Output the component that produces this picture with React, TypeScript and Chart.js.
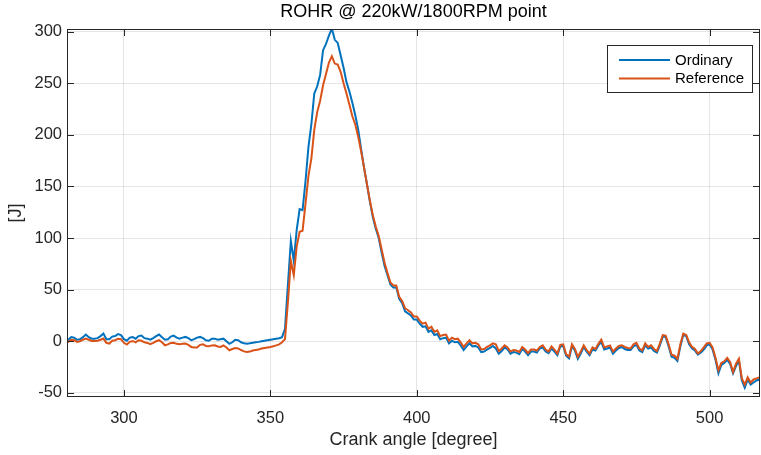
import React, { useEffect, useRef } from "react";
import { Chart, registerables } from "chart.js";

Chart.register(...registerables);

const titleText = "ROHR @ 220kW/1800RPM point";
const xLabel = "Crank angle [degree]";
const yLabel = "[J]";
const seriesNames = ["Ordinary", "Reference"];
const seriesColors = ["#0072BD", "#D95319"];

const crankStart = 280; // first crank angle, 1 degree step

const ordinary = [
  0, 1.5, 4, 3.5, 1.5, 2, 4, 6.5, 4, 2.5,
  2.5, 3, 5, 7.5, 2, 2, 4.5, 5, 7, 6,
  2, 0.5, 3.5, 4, 2.5, 5, 5.5, 3, 2.5, 1.5,
  3, 5, 6.5, 4, 1.5, 2, 4.5, 5.5, 3.5, 2.5,
  3.5, 4.2, 3, 1, 2, 3.5, 4.2, 3, 1, 0.5,
  2.5, 2.5, 1.5, 2, 2.5, 0, -2.5, -1, 1.5, 1,
  -1, -2, -2.3, -2, -1.5, -1, -0.6, 0, 0.5, 1,
  1.5, 2, 2.5, 3, 4, 12, 55, 97, 78, 108,
  128, 127, 155, 188, 210, 240, 247, 258, 282, 288,
  296, 303, 292, 289, 277, 265, 251, 242, 231, 219,
  205, 186, 168, 152, 135, 120, 109, 100, 86, 73,
  64, 55, 52, 52, 41, 37, 29, 27, 25, 21,
  21, 17, 14, 14.5, 9, 10.5, 6, 7, 2, 3,
  3.5, -2, 0.5, -1, -0.5, -4, -8.5, -5, -2, -5,
  -4.5, -6, -10.5, -10, -8, -6.5, -4.5, -7, -12, -9.5,
  -6, -8, -12, -10.5, -11, -12.5, -7.5, -10, -13.5, -10,
  -10, -11, -7, -6, -10, -11.5, -7, -10, -13.5, -5,
  -4.5, -14, -16.5, -4.5, -9, -17, -12, -5.5, -10, -13.5,
  -8, -9, -4, -0.5, -8, -7, -6, -12, -9, -6.5,
  -5.5, -7.5, -8.5, -8.5, -5, -3.5, -9, -10.5, -4, -7,
  -6, -9.5, -11, -4, 4.5, 4, -5, -15, -16, -19,
  -5, 6, 5, -3, -7, -9, -13, -11, -8, -4,
  -3, -8, -18, -31, -23, -21, -18, -22, -31, -24,
  -19, -38, -45, -37, -42, -40, -38, -37,
];

const reference = [
  -1.6, -0.5, 1.5, 1, -0.6, 0, 1.5, 2.6, 1.5, 0.3,
  0.3, 0.5, 1.5, 2.6, -1.5, -2.3, 0.5, 1, 2.5, 2,
  -1.5, -3.2, -0.5, 0.3, -1, 1, 0.5, -1, -1.6, -2.9,
  -1.5, 0, 1, -1, -3.9, -3, -1.6, -1.5, -2.5, -2.9,
  -2.5, -2.3, -3.5, -5.5, -6, -6.1, -3.5, -2.9, -4.5, -4.8,
  -4, -3.9, -5, -5.5, -4, -6, -8.7, -7.5, -6.5, -7,
  -8.5, -9.8, -10.3, -10, -9, -8.5, -8, -7, -6.5, -6,
  -5.5, -4.8, -4, -3, -1, 2, 38, 78, 64, 92,
  106, 107, 133, 160, 177, 205, 222, 233, 248, 259,
  270, 276, 269, 268, 261, 250, 240, 229, 218, 210,
  198, 184, 168, 152, 136, 122, 111, 102, 89, 76,
  66, 57, 54, 54, 43, 39, 32, 30, 28, 24,
  24, 20, 17, 18, 12, 14, 9, 10.5, 5, 6,
  6.5, 0.5, 3.5, 2, 2.5, -1, -5.5, -2, 1, -2,
  -1.5, -3, -8, -7.5, -5.5, -4, -2, -3, -9.5, -7,
  -4, -6, -10, -8.5, -9, -10.3, -5.5, -8, -11.5, -8,
  -8, -9, -5.5, -4, -8, -10, -5, -8, -12, -3.5,
  -3, -12.5, -15, -3, -7.5, -15.2, -10, -4, -8.5, -12,
  -6, -7.5, -2.5, 1.5, -6, -5, -4, -10, -7, -4.5,
  -3.9, -5.5, -6.5, -7, -3, -1.6, -7, -8.7, -2, -5.5,
  -4, -7.5, -9.4, -2.3, 6, 5.5, -3, -13, -14, -17,
  -3, 7.4, 6, -1, -5.5, -7.5, -11.9, -9.5, -6, -2,
  -1.5, -6, -16, -28, -21, -19.4, -16, -20, -29.7, -21.8,
  -17, -36, -42, -35, -40, -37, -36, -35,
];

const xTicks = [300, 350, 400, 450, 500];
const yTicks = [-50, 0, 50, 100, 150, 200, 250, 300];
const xRange = [280.56, 517.2];
const yRange = [-54, 302.5];

const FONT = "'Liberation Sans', Arial, Helvetica, sans-serif";
const AXIS_COLOR = "#262626";

const decorPlugin = {
  id: "decor",
  afterDraw(chart: any) {
    const ctx = chart.ctx;
    const { left, right, top, bottom } = chart.chartArea;
    const xs = chart.scales.x;
    const ys = chart.scales.y;
    ctx.save();
    // box
    ctx.strokeStyle = AXIS_COLOR;
    ctx.lineWidth = 1;
    ctx.strokeRect(Math.round(left) + 0.5, Math.round(top) + 0.5, Math.round(right - left) - 1, Math.round(bottom - top) - 1);
    // inward ticks
    const tl = 7;
    ctx.beginPath();
    xTicks.forEach((v) => {
      const p = Math.round(xs.getPixelForValue(v)) + 0.5;
      ctx.moveTo(p, bottom);
      ctx.lineTo(p, bottom - tl);
      ctx.moveTo(p, top);
      ctx.lineTo(p, top + tl);
    });
    yTicks.forEach((v) => {
      const p = Math.round(ys.getPixelForValue(v)) + 0.5;
      ctx.moveTo(left, p);
      ctx.lineTo(left + tl, p);
      ctx.moveTo(right, p);
      ctx.lineTo(right - tl, p);
    });
    ctx.stroke();

    // title
    const cx = (left + right) / 2;
    ctx.fillStyle = "#000000";
    ctx.font = `18px ${FONT}`;
    ctx.textAlign = "center";
    ctx.textBaseline = "middle";
    ctx.fillText(titleText, cx, 12);
    // x label
    ctx.fillStyle = AXIS_COLOR;
    ctx.fillText(xLabel, cx, 440);
    // y label
    ctx.save();
    ctx.translate(16, (top + bottom) / 2);
    ctx.rotate(-Math.PI / 2);
    ctx.fillText(yLabel, 0, 0);
    ctx.restore();

    // legend
    const lx = 607.5, ly = 45.5, lw = 145, lh = 47;
    ctx.fillStyle = "#ffffff";
    ctx.fillRect(lx, ly, lw, lh);
    ctx.strokeStyle = AXIS_COLOR;
    ctx.lineWidth = 1;
    ctx.strokeRect(lx, ly, lw, lh);
    const rows = [60, 78.5];
    ctx.font = `15px ${FONT}`;
    ctx.textAlign = "left";
    ctx.textBaseline = "middle";
    seriesNames.forEach((name, i) => {
      ctx.strokeStyle = seriesColors[i];
      ctx.lineWidth = 2;
      ctx.beginPath();
      ctx.moveTo(619, rows[i]);
      ctx.lineTo(670, rows[i]);
      ctx.stroke();
      ctx.fillStyle = "#000000";
      ctx.fillText(name, 675, rows[i] + 0.5);
    });
    ctx.restore();
  },
};

export default function App() {
  const canvasRef = useRef<HTMLCanvasElement | null>(null);

  useEffect(() => {
    const canvas = canvasRef.current;
    if (!canvas) return;
    const series = [ordinary, reference];
    const chart = new Chart(canvas, {
      type: "line",
      data: {
        datasets: series.map((vals, i) => ({
          label: seriesNames[i],
          data: vals.map((v, k) => ({ x: crankStart + k, y: v })),
          borderColor: seriesColors[i],
          backgroundColor: seriesColors[i],
          borderWidth: 2,
          pointRadius: 0,
          tension: 0,
          fill: false,
          order: i === 0 ? 2 : 1,
        })),
      },
      options: {
        animation: false,
        responsive: false,
        devicePixelRatio: 1,
        layout: { padding: { top: 29, right: 1, bottom: 0, left: 0 } },
        plugins: {
          legend: { display: false },
          tooltip: { enabled: false },
          title: { display: false },
        },
        scales: {
          x: {
            type: "linear",
            min: xRange[0],
            max: xRange[1],
            afterBuildTicks: (s: any) => {
              s.ticks = xTicks.map((v) => ({ value: v }));
            },
            afterFit: (s: any) => {
              s.height = 58;
            },
            grid: { color: "rgba(38,38,38,0.12)", drawTicks: false, lineWidth: 1 },
            border: { display: false },
            ticks: {
              padding: 12,
              color: AXIS_COLOR,
              font: { family: FONT, size: 16.5 },
              maxRotation: 0,
              autoSkip: false,
            },
          },
          y: {
            type: "linear",
            min: yRange[0],
            max: yRange[1],
            afterBuildTicks: (s: any) => {
              s.ticks = yTicks.map((v) => ({ value: v }));
            },
            afterFit: (s: any) => {
              s.width = 67;
            },
            grid: { color: "rgba(38,38,38,0.12)", drawTicks: false, lineWidth: 1 },
            border: { display: false },
            ticks: {
              padding: 5,
              color: AXIS_COLOR,
              font: { family: FONT, size: 16.5 },
              autoSkip: false,
            },
          },
        },
      },
      plugins: [decorPlugin],
    });
    return () => chart.destroy();
  }, []);

  return (
    <div style={{ position: "absolute", left: 0, top: 0, width: 761, height: 455, background: "#ffffff" }}>
      <canvas ref={canvasRef} width={761} height={455} />
    </div>
  );
}
